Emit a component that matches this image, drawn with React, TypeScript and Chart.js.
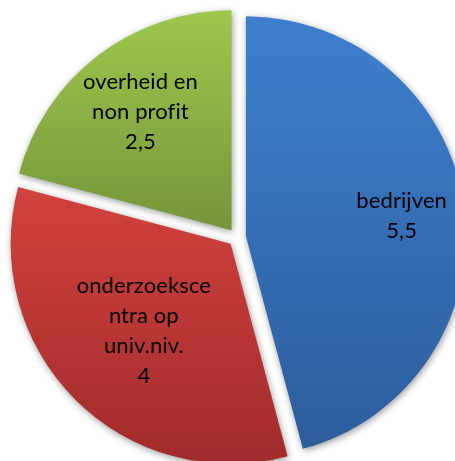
import React, { useEffect, useRef } from "react";
import { Chart, registerables } from "chart.js";

Chart.register(...registerables);

const categories = ["bedrijven", "onderzoekscentra op univ.niv.", "overheid en non profit"];
const values = [5.5, 4, 2.5];
const labelLines = [["bedrijven"], ["onderzoeksce", "ntra op", "univ.niv."], ["overheid en", "non profit"]];
const valueLabels = ["5,5", "4", "2,5"];

const topColors = ["#3D7FCD", "#D1423F", "#9EC74D"];
const bottomColors = ["#2D5D9C", "#A02B2A", "#76953A"];
const labelRadius = [0.714, 0.558, 0.68];
const EXPLODE = 9;

const explodePlugin = {
  id: "explodeSlices",
  beforeDatasetDraw(chart: any, args: any) {
    const ctx = chart.ctx;
    const meta = args.meta;
    meta.data.forEach((arc: any, i: number) => {
      const { x, y, startAngle, endAngle, outerRadius } = arc.getProps(["x", "y", "startAngle", "endAngle", "outerRadius"], true);
      const mid = (startAngle + endAngle) / 2;
      const dx = Math.cos(mid) * EXPLODE;
      const dy = Math.sin(mid) * EXPLODE;
      const cy = y + dy;
      let minY = cy, maxY = cy;
      const steps = 60;
      for (let s = 0; s <= steps; s++) {
        const a = startAngle + ((endAngle - startAngle) * s) / steps;
        const py = cy + Math.sin(a) * outerRadius;
        minY = Math.min(minY, py);
        maxY = Math.max(maxY, py);
      }
      const g = ctx.createLinearGradient(0, minY - dy, 0, maxY - dy);
      g.addColorStop(0, topColors[i]);
      g.addColorStop(1, bottomColors[i]);
      arc.options.backgroundColor = g;
      ctx.save();
      ctx.translate(dx, dy);
      ctx.shadowColor = "rgba(0,0,0,0.4)";
      ctx.shadowBlur = 7;
      ctx.shadowOffsetX = 1;
      ctx.shadowOffsetY = 2;
      arc.draw(ctx);
      ctx.restore();
    });
    return false;
  },
  afterDatasetsDraw(chart: any) {
    const ctx = chart.ctx;
    const meta = chart.getDatasetMeta(0);
    ctx.save();
    ctx.fillStyle = "#000000";
    ctx.font = "22px Lato";
    ctx.textAlign = "center";
    ctx.textBaseline = "middle";
    try {
      (ctx as any).letterSpacing = "0.1px";
    } catch (e) {}
    const lh = 30;
    meta.data.forEach((arc: any, i: number) => {
      const { x, y, startAngle, endAngle, outerRadius } = arc.getProps(["x", "y", "startAngle", "endAngle", "outerRadius"], true);
      const mid = (startAngle + endAngle) / 2;
      const d = EXPLODE + outerRadius * labelRadius[i];
      const cx = x + Math.cos(mid) * d;
      const cy = y + Math.sin(mid) * d;
      const lines = [...labelLines[i], valueLabels[i]];
      const top = cy - ((lines.length - 1) * lh) / 2;
      lines.forEach((t, k) => ctx.fillText(t, cx, top + k * lh));
    });
    ctx.restore();
  },
};

export default function App() {
  const ref = useRef<HTMLCanvasElement>(null);
  useEffect(() => {
    if (!ref.current) return;
    const chart = new Chart(ref.current, {
      type: "pie",
      data: {
        labels: categories,
        datasets: [
          {
            data: values,
            backgroundColor: topColors,
            borderWidth: 0,
            offset: 0,
          },
        ],
      },
      options: {
        responsive: false,
        animation: false,
        radius: 220,
        layout: { padding: 0 },
        plugins: { legend: { display: false }, tooltip: { enabled: false } },
      } as any,
      plugins: [explodePlugin],
    });
    return () => chart.destroy();
  }, []);
  return (
    <canvas
      ref={ref}
      width={474}
      height={475}
      style={{ position: "fixed", left: 0, top: 0, width: 474, height: 475 }}
    />
  );
}
